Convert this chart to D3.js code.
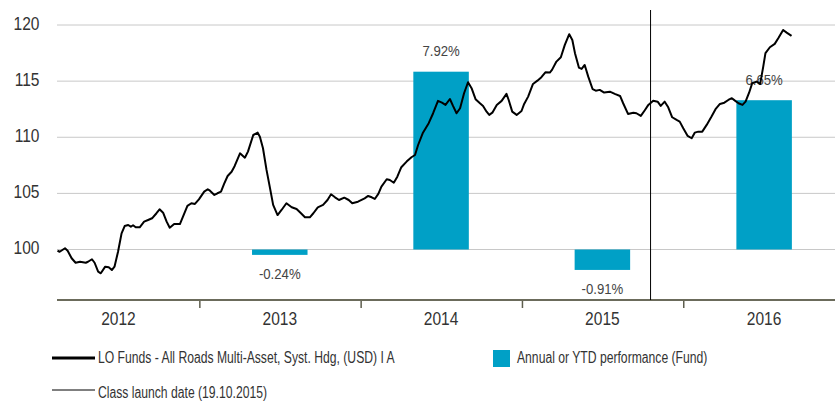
<!DOCTYPE html>
<html lang="en">
<head>
<meta charset="UTF-8" />
<title>LO Funds - All Roads Multi-Asset</title>
<script src="https://cdn.jsdelivr.net/npm/d3@7"></script>
<style>
  body { margin: 0; background: #fff; }
  svg text { font-family: "Liberation Sans", Arial, sans-serif; fill: #333; }
</style>
</head>
<body>
<svg id="chart" width="835" height="403"></svg>
<script>
// NAV series (indexed to 100)
const navDates = [
  "2012-02-15","2012-02-20","2012-03-03","2012-03-09","2012-03-18","2012-03-27","2012-04-06","2012-04-19","2012-04-24","2012-05-03",
  "2012-05-09","2012-05-17","2012-05-23","2012-06-02","2012-06-10","2012-06-17","2012-06-23","2012-07-01","2012-07-09","2012-07-16",
  "2012-07-24","2012-07-30","2012-08-04","2012-08-10","2012-08-19","2012-08-29","2012-09-07","2012-09-16","2012-09-26","2012-10-03",
  "2012-10-11","2012-10-19","2012-10-26","2012-11-05","2012-11-18","2012-11-25","2012-12-05","2012-12-14","2012-12-22","2012-12-31",
  "2013-01-12","2013-01-20","2013-01-25","2013-02-04","2013-02-11","2013-02-19","2013-02-26","2013-03-06","2013-03-15","2013-03-22",
  "2013-04-03","2013-04-14","2013-04-21","2013-05-03","2013-05-13","2013-05-18","2013-05-25","2013-06-02","2013-06-10","2013-06-17",
  "2013-06-27","2013-07-06","2013-07-17","2013-07-29","2013-08-09","2013-08-19","2013-08-28","2013-09-08","2013-09-16","2013-09-26",
  "2013-10-08","2013-10-18","2013-10-26","2013-11-04","2013-11-13","2013-11-25","2013-12-05","2013-12-13","2013-12-26","2014-01-10",
  "2014-01-18","2014-01-26","2014-02-02","2014-02-10","2014-02-17","2014-03-01","2014-03-08","2014-03-17","2014-03-25","2014-04-03",
  "2014-04-15","2014-04-26","2014-05-04","2014-05-11","2014-05-22","2014-06-04","2014-06-14","2014-06-25","2014-07-04","2014-07-12",
  "2014-07-22","2014-07-29","2014-08-06","2014-08-14","2014-08-23","2014-09-01","2014-09-09","2014-09-18","2014-09-28","2014-10-05",
  "2014-10-13","2014-10-19","2014-10-26","2014-11-05","2014-11-16","2014-11-27","2014-12-02","2014-12-10","2014-12-20","2014-12-31",
  "2015-01-06","2015-01-15","2015-01-26","2015-02-05","2015-02-14","2015-02-23","2015-03-05","2015-03-10","2015-03-20","2015-03-30",
  "2015-04-08","2015-04-18","2015-04-25","2015-05-01","2015-05-10","2015-05-16","2015-05-23","2015-05-31","2015-06-10","2015-06-17",
  "2015-06-26","2015-07-06","2015-07-19","2015-07-30","2015-08-11","2015-08-18","2015-08-29","2015-09-10","2015-09-17","2015-09-27",
  "2015-10-06","2015-10-14","2015-10-25","2015-11-04","2015-11-11","2015-11-20","2015-11-28","2015-12-07","2015-12-17","2015-12-24",
  "2016-01-01","2016-01-11","2016-01-20","2016-01-27","2016-02-04","2016-02-13","2016-02-23","2016-03-05","2016-03-14","2016-03-24",
  "2016-04-03","2016-04-12","2016-04-20","2016-04-27","2016-05-05","2016-05-14","2016-05-21","2016-05-29","2016-06-05","2016-06-15",
  "2016-06-23","2016-06-30","2016-07-05","2016-07-15","2016-07-26","2016-08-03","2016-08-14","2016-08-22","2016-09-02"
];
const navValues = [
  99.89, 99.80, 100.11, 99.89, 99.22, 98.82, 98.91, 98.82, 98.91, 99.13,
  98.82, 98.02, 97.88, 98.47, 98.41, 98.17, 98.47, 99.80, 101.44, 102.09,
  102.18, 102.03, 102.16, 101.98, 101.98, 102.48, 102.63, 102.78, 103.23, 103.58,
  103.28, 102.48, 101.94, 102.27, 102.27, 102.92, 103.88, 104.12, 104.06, 104.47,
  105.15, 105.37, 105.24, 104.86, 105.01, 105.15, 105.84, 106.55, 106.93, 107.44,
  108.57, 108.18, 108.72, 110.20, 110.41, 110.05, 109.02, 107.09, 105.45, 103.97,
  103.07, 103.52, 104.12, 103.76, 103.61, 103.23, 102.87, 102.87, 103.23, 103.76,
  103.97, 104.41, 104.92, 104.65, 104.41, 104.62, 104.41, 104.12, 104.26, 104.56,
  104.77, 104.65, 104.50, 104.95, 105.60, 106.26, 106.19, 105.95, 106.49, 107.33,
  107.83, 108.22, 108.42, 109.31, 110.41, 111.25, 112.14, 113.24, 113.08, 112.88,
  113.41, 112.79, 112.14, 112.58, 113.92, 114.90, 114.37, 113.39, 113.03, 112.79,
  112.28, 111.99, 112.19, 112.88, 113.24, 113.86, 113.32, 112.28, 111.99, 112.34,
  112.97, 113.62, 114.75, 115.04, 115.35, 115.79, 115.76, 116.00, 116.74, 117.13,
  118.23, 119.18, 118.67, 117.49, 116.20, 116.09, 116.44, 115.40, 114.28, 114.15,
  114.22, 113.98, 114.06, 113.86, 113.68, 113.03, 112.08, 112.19, 112.14, 111.90,
  112.41, 112.88, 113.26, 113.17, 112.79, 113.17, 112.67, 111.78, 111.54, 111.39,
  110.80, 110.12, 109.91, 110.41, 110.50, 110.50, 111.10, 111.84, 112.50, 112.97,
  113.08, 113.32, 113.48, 113.26, 113.03, 112.88, 113.17, 113.97, 114.81, 114.96,
  114.75, 116.29, 117.49, 118.02, 118.32, 118.82, 119.56, 119.32, 119.03
];

// annual / YTD performance of the fund, in %
const perfYears = [2013, 2014, 2015, 2016];
const perfValues = [-0.24, 7.92, -0.91, 6.65];

const yTicks = [100, 105, 110, 115, 120];
const yearLabels = [2012, 2013, 2014, 2015, 2016];
const launchDate = "2015-10-19";

const seriesName = "LO Funds - All Roads Multi-Asset, Syst. Hdg, (USD) I A";
const barName = "Annual or YTD performance (Fund)";
const launchName = "Class launch date (19.10.2015)";

const parse = d3.timeParse("%Y-%m-%d");
const plotLeft = 57, plotRight = 835;

// no condensed face installed, so squeeze the regular one
function narrow(sel, k) {
  sel.each(function () {
    const w = this.getComputedTextLength();
    this.setAttribute("textLength", w * k);
    this.setAttribute("lengthAdjust", "spacingAndGlyphs");
  });
}

const svg = d3.select("#chart");

// x runs over whole calendar years, the plot area cuts into 2012 on the left
const x = d3.scaleTime()
  .domain([new Date(2012, 0, 1), new Date(2017, 0, 1)])
  .range([37.6, 845]);
const y = d3.scaleLinear().domain([100, 120]).range([249.5, 25]);
// hidden right axis for the bars: 0% sits on 100, 10% on 120
const yBar = d3.scaleLinear().domain([0, 10]).range([y(100), y(120)]);

// gridlines + left labels
svg.append("g").selectAll("line")
  .data(yTicks)
  .join("line")
  .attr("x1", plotLeft).attr("x2", plotRight)
  .attr("y1", d => y(d)).attr("y2", d => y(d))
  .attr("stroke", "#c8c8c8").attr("stroke-width", 1);

svg.append("g").selectAll("text")
  .data(yTicks)
  .join("text")
  .attr("x", 39.5).attr("y", d => y(d) - 1.5)
  .attr("dy", "0.35em")
  .attr("text-anchor", "end")
  .style("font-size", "18.5px")
  .text(d => d)
  .call(narrow, 0.84);

// bars
const barW = 55.5;
const bars = perfYears.map((yr, i) => ({ year: yr, v: perfValues[i] }));
const midYear = yr => x(new Date(yr, 6, 2));

svg.append("g").selectAll("rect")
  .data(bars)
  .join("rect")
  .attr("x", d => midYear(d.year) - barW / 2)
  .attr("width", barW)
  .attr("y", d => Math.min(yBar(0), yBar(d.v)))
  .attr("height", d => Math.abs(yBar(d.v) - yBar(0)))
  .attr("fill", "#00a0c6");

svg.append("g").selectAll("text")
  .data(bars)
  .join("text")
  .attr("x", d => midYear(d.year))
  .attr("y", d => d.v >= 0 ? yBar(d.v) - 21 : yBar(d.v) + 18.5)
  .attr("dy", "0.35em")
  .attr("text-anchor", "middle")
  .style("font-size", "15.5px")
  .style("fill", "#444")
  .text(d => d.v.toFixed(2) + "%")
  .call(narrow, 0.85);

// x axis
const xAxis = d3.axisBottom(x)
  .tickValues([2013, 2014, 2015, 2016].map(yr => new Date(yr, 0, 1)))
  .tickFormat("")
  .tickSize(8)
  .tickSizeOuter(0);
const gx = svg.append("g").attr("transform", "translate(0,300)").call(xAxis);
gx.select(".domain").remove();
gx.selectAll(".tick line").attr("stroke", "#5e5e4e").attr("stroke-width", 1.5);
svg.append("line")
  .attr("x1", plotLeft).attr("x2", plotRight)
  .attr("y1", 300).attr("y2", 300)
  .attr("stroke", "#6b6b5b").attr("stroke-width", 2);

svg.append("g").selectAll("text")
  .data(yearLabels)
  .join("text")
  .attr("x", d => midYear(d))
  .attr("y", 319)
  .attr("dy", "0.35em")
  .attr("text-anchor", "middle")
  .style("font-size", "18.5px")
  .text(d => d)
  .call(narrow, 0.84);

// NAV line
const nav = navDates.map((d, i) => ({ date: parse(d), v: navValues[i] }));
svg.append("path")
  .datum(nav)
  .attr("fill", "none")
  .attr("stroke", "#000")
  .attr("stroke-width", 2)
  .attr("stroke-linejoin", "round")
  .attr("d", d3.line().x(d => x(d.date)).y(d => y(d.v)));

// class launch marker
const xl = x(parse(launchDate));
svg.append("line")
  .attr("x1", xl).attr("x2", xl)
  .attr("y1", 10).attr("y2", 300)
  .attr("stroke", "#000").attr("stroke-width", 1);

// legend
const leg = svg.append("g");
leg.append("line").attr("x1", 52).attr("x2", 95).attr("y1", 358).attr("y2", 358)
  .attr("stroke", "#000").attr("stroke-width", 3);
leg.append("text").attr("x", 98).attr("y", 357).attr("dy", "0.35em")
  .style("font-size", "16px").text(seriesName).call(narrow, 0.76);

leg.append("rect").attr("x", 493).attr("y", 350).attr("width", 17).attr("height", 17)
  .attr("fill", "#00a0c6");
leg.append("text").attr("x", 517).attr("y", 357).attr("dy", "0.35em")
  .style("font-size", "16px").text(barName).call(narrow, 0.76);

leg.append("line").attr("x1", 52).attr("x2", 95).attr("y1", 390).attr("y2", 390)
  .attr("stroke", "#000").attr("stroke-width", 1);
leg.append("text").attr("x", 98).attr("y", 392).attr("dy", "0.35em")
  .style("font-size", "16px").text(launchName).call(narrow, 0.76);
</script>
</body>
</html>
